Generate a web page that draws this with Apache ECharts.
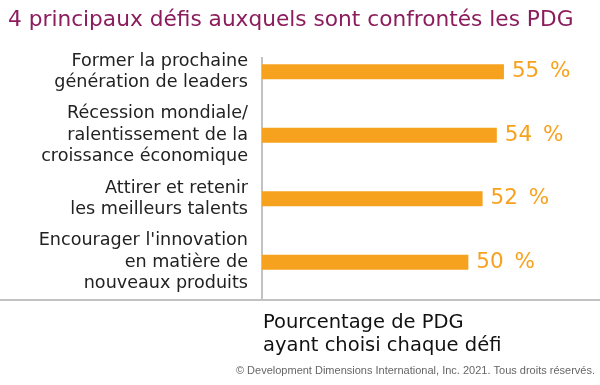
<!DOCTYPE html>
<html><head><meta charset="utf-8">
<script src="https://cdn.jsdelivr.net/npm/echarts@6/dist/echarts.min.js"></script>
<style>html,body{margin:0;padding:0;background:#fff}#c{width:600px;height:385px}</style>
</head><body><div id="c"></div>
<script>
const categories = [
  "Former la prochaine\ngénération de leaders",
  "Récession mondiale/\nralentissement de la\ncroissance économique",
  "Attirer et retenir\nles meilleurs talents",
  "Encourager l'innovation\nen matière de\nnouveaux produits"
];
const values = [55, 54, 52, 50];
const titleText = "4 principaux défis auxquels sont confrontés les PDG";
const axisTitle = "Pourcentage de PDG\nayant choisi chaque défi";
const credit = "© Development Dimensions International, Inc. 2021. Tous droits réservés.";

const chart = echarts.init(document.getElementById('c'), null, {renderer:'canvas'});
chart.setOption({
  animation:false,
  title:[
    {text:titleText,left:8,top:9,padding:0,textStyle:{color:'#8C1D5D',fontFamily:'DejaVu Sans',fontSize:21.7,fontWeight:'normal'}},
    {text:axisTitle,left:263,top:311,padding:0,textStyle:{color:'#111',fontFamily:'DejaVu Sans',fontSize:19.5,fontWeight:'normal',lineHeight:23}},
    {text:credit,right:5,top:365,padding:0,textStyle:{color:'#666',fontFamily:'Liberation Sans',fontSize:11,fontWeight:'normal'}}
  ],
  grid:{left:262,right:0,top:40,height:254,containLabel:false},
  xAxis:{type:'value',min:21,max:68.5,show:false},
  yAxis:{type:'category',data:categories,inverse:true,
    axisLine:{show:false},axisTick:{show:false},
    axisLabel:{color:'#222',fontFamily:'DejaVu Sans',fontSize:17.6,lineHeight:21.5,margin:14,align:'right'}},
  series:[{type:'bar',data:values,barWidth:15,itemStyle:{color:'#F7A21E'},
    label:{show:true,position:'right',distance:8,formatter:p=>p.value+'\u2002%',color:'#F7A21E',fontFamily:'DejaVu Sans',fontSize:21.5}}],
  graphic:[
    {type:'line',shape:{x1:262,y1:57,x2:262,y2:300},style:{stroke:'#C0C2C4',lineWidth:2}},
    {type:'line',shape:{x1:0,y1:300,x2:600,y2:300},style:{stroke:'#C0C2C4',lineWidth:2}}
  ]
});
</script></body></html>
